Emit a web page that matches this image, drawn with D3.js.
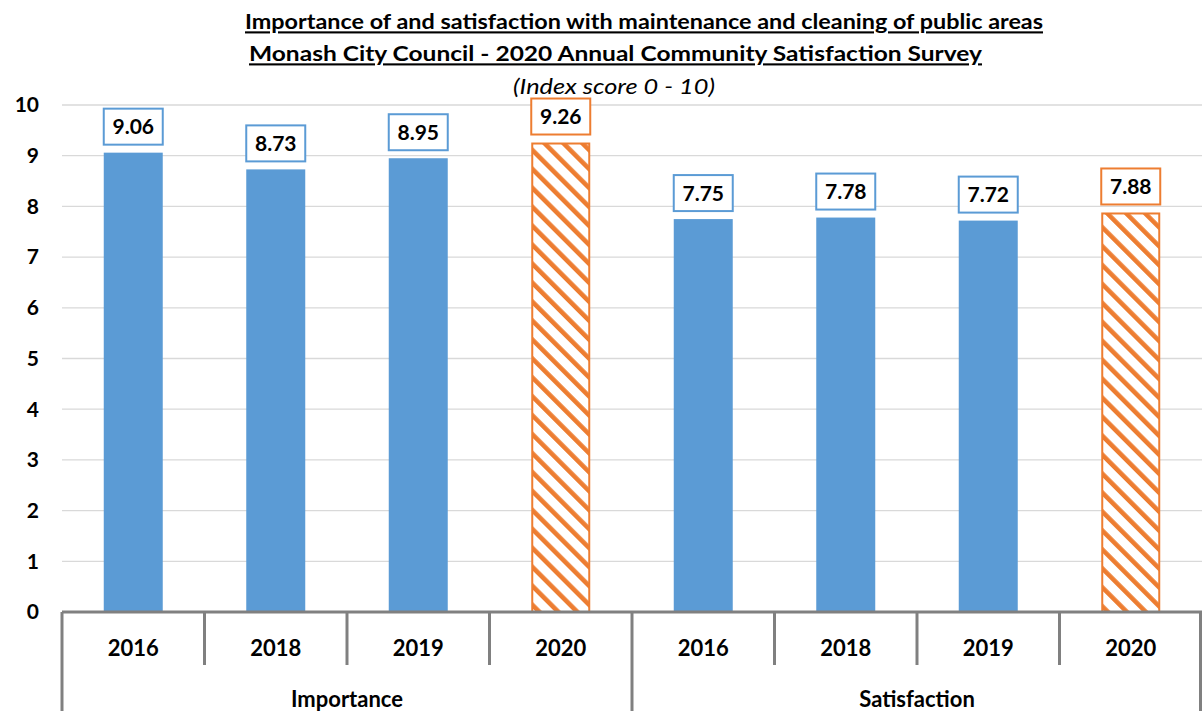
<!DOCTYPE html>
<html><head><meta charset="utf-8">
<script src="https://cdn.jsdelivr.net/npm/d3@7"></script>
<style>body{margin:0;background:#fff}svg{display:block}text{font-family:Lato,"Liberation Sans",sans-serif}</style>
</head><body><svg id="c" width="1202" height="711"></svg>
<script>
const groups = ["Importance", "Satisfaction"];
const years = ["2016", "2018", "2019", "2020"];
const importance = [9.06, 8.73, 8.95, 9.26];
const satisfaction = [7.75, 7.78, 7.72, 7.88];
const yTicks = [0,1,2,3,4,5,6,7,8,9,10];
const titleLines = ["Importance of and satisfaction with maintenance and cleaning of public areas",
  "Monash City Council - 2020 Annual Community Satisfaction Survey"];
const subtitle = "(Index score 0 - 10)";

const blue = "#5B9BD5", orange = "#ED7D31";
const data = [];
groups.forEach((g, gi) => {
  const vals = gi === 0 ? importance : satisfaction;
  years.forEach((y, yi) => data.push({key: g + "|" + y, group: g, year: y, value: vals[yi], current: y === "2020"}));
});

const svg = d3.select("#c");
const L = 62, R = 1202, T = 105, B = 612;
const x = d3.scaleBand().domain(data.map(d => d.key)).range([L, R]).paddingInner(0.586).paddingOuter(0.293);
const y = d3.scaleLinear().domain([0, 10]).range([B, T]);

const defs = svg.append("defs");
const pw = 13.4;
const pat = defs.append("pattern").attr("id", "hatch").attr("patternUnits", "userSpaceOnUse")
  .attr("width", pw).attr("height", pw).attr("patternTransform", "rotate(-45)");
pat.append("rect").attr("width", pw).attr("height", pw).attr("fill", "#fff");
pat.append("rect").attr("x", 0).attr("width", 4.6).attr("height", pw).attr("fill", orange);

// gridlines
svg.append("g").selectAll("line").data(yTicks.filter(t => t > 0)).join("line")
  .attr("x1", L).attr("x2", R).attr("y1", d => y(d)).attr("y2", d => y(d))
  .attr("stroke", "#d9d9d9").attr("stroke-width", 1.3);

// y labels
svg.append("g").selectAll("text").data(yTicks).join("text")
  .attr("x", 39).attr("y", d => y(d)).attr("dy", "0.35em").attr("text-anchor", "end")
  .attr("font-weight", "bold").attr("font-size", 21).text(d => d);

// bars
svg.append("g").selectAll("rect").data(data).join("rect")
  .attr("x", d => x(d.key) + (d.current ? 1 : 0)).attr("width", d => x.bandwidth() - (d.current ? 2 : 0))
  .attr("y", d => y(d.value) + (d.current ? 1 : 0)).attr("height", d => y(0) - y(d.value) - (d.current ? 1 : 0))
  .attr("fill", d => d.current ? "url(#hatch)" : blue)
  .attr("stroke", d => d.current ? orange : "none").attr("stroke-width", 2);

// labels
const lg = svg.append("g").selectAll("g").data(data).join("g")
  .attr("transform", d => `translate(${x(d.key) + x.bandwidth() / 2},${y(d.value) - 26})`);
lg.append("rect").attr("x", -29.5).attr("y", -18).attr("width", 59).attr("height", 36)
  .attr("fill", "#fff").attr("stroke", d => d.current ? orange : blue).attr("stroke-width", 2);
lg.append("text").attr("text-anchor", "middle").attr("dy", "0.36em").attr("font-weight", "bold")
  .attr("font-size", 21).text(d => d.value.toFixed(2));

// x axis
const ax = svg.append("g").attr("stroke", "#808080").attr("stroke-width", 3);
ax.append("line").attr("x1", L).attr("x2", R).attr("y1", B).attr("y2", B);
data.forEach((d, i) => {
  const xl = x(d.key) - (x.step() - x.bandwidth()) / 2;
  const isGroupStart = i % years.length === 0;
  ax.append("line").attr("x1", xl).attr("x2", xl).attr("y1", B).attr("y2", isGroupStart ? 711 : 665);
});
ax.append("line").attr("x1", R - 1.5).attr("x2", R - 1.5).attr("y1", B).attr("y2", 711);

svg.append("g").selectAll("text").data(data).join("text")
  .attr("x", d => x(d.key) + x.bandwidth() / 2).attr("y", 648).attr("dy", "0.35em")
  .attr("text-anchor", "middle").attr("font-weight", "bold").attr("font-size", 22).text(d => d.year);

svg.append("g").selectAll("text").data(groups).join("text")
  .attr("x", (g, gi) => {
    const ks = data.filter(d => d.group === g).map(d => d.key);
    return (x(ks[0]) + x(ks[ks.length - 1]) + x.bandwidth()) / 2;
  })
  .attr("y", 699).attr("dy", "0.35em").attr("text-anchor", "middle")
  .attr("font-weight", "bold").attr("font-size", 22).text(g => g);

// titles
const tl = [{t: titleLines[0], x: 644, y: 22, w: 798}, {t: titleLines[1], x: 615.5, y: 54, w: 733}];
tl.forEach(o => {
  svg.append("text").attr("x", o.x).attr("y", o.y).attr("dy", "0.35em").attr("text-anchor", "middle")
    .attr("font-weight", "bold").attr("font-size", 21).attr("text-decoration", "underline")
    .attr("textLength", o.w).attr("lengthAdjust", "spacingAndGlyphs").text(o.t);
});
svg.append("text").attr("x", 614).attr("y", 87).attr("dy", "0.35em").attr("text-anchor", "middle")
  .attr("font-style", "italic").attr("font-size", 21).attr("textLength", 202)
  .attr("lengthAdjust", "spacingAndGlyphs").text(subtitle);
</script></body></html>
